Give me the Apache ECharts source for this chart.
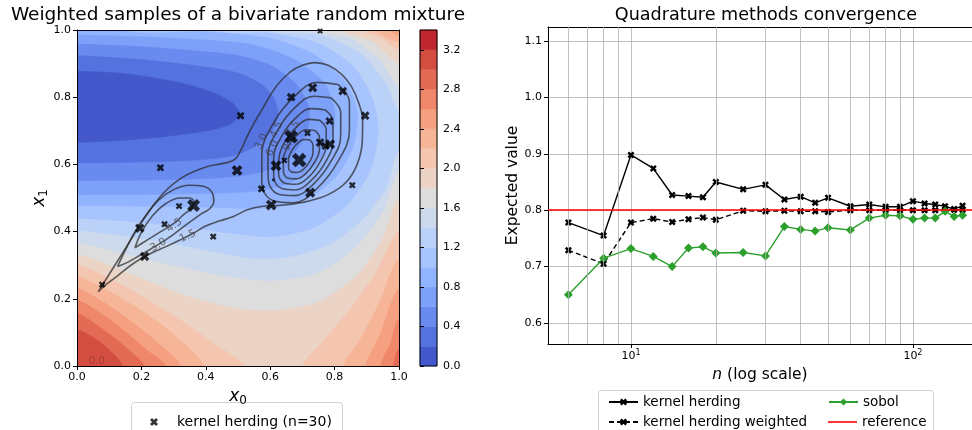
<!DOCTYPE html>
<html>
<head>
<meta charset="utf-8">
<title>kernel herding</title>
<script src="https://cdn.jsdelivr.net/npm/echarts@6.0.0/dist/echarts.min.js"></script>
<style>
html, body { margin: 0; padding: 0; background: #fff; }
#main { width: 972px; height: 430px; }
</style>
</head>
<body>
<div id="main"></div>
<script>
var FONT = 'DejaVu Sans';

// ---------- right panel : convergence ----------
var nValues = [6, 8, 10, 12, 14, 16, 18, 20, 25, 30, 35, 40, 45, 50, 60, 70, 80, 90, 100, 110, 120, 130, 140, 150];
var herding = [0.778, 0.755, 0.898, 0.874, 0.827, 0.825, 0.823, 0.850, 0.837, 0.845, 0.819, 0.824, 0.813, 0.822, 0.807, 0.810, 0.806, 0.806, 0.816, 0.812, 0.810, 0.807, 0.802, 0.808];
var herdingWeighted = [0.729, 0.705, 0.778, 0.785, 0.779, 0.784, 0.787, 0.783, 0.799, 0.798, 0.799, 0.798, 0.798, 0.797, 0.800, 0.800, 0.800, 0.800, 0.800, 0.800, 0.800, 0.801, 0.801, 0.801];
var sobol = [0.650, 0.715, 0.732, 0.718, 0.700, 0.733, 0.735, 0.724, 0.725, 0.719, 0.771, 0.766, 0.763, 0.769, 0.765, 0.786, 0.791, 0.790, 0.784, 0.786, 0.786, 0.798, 0.789, 0.791];
var referenceValue = 0.802;
var minorGrid = [6, 7, 8, 9, 20, 30, 40, 50, 60, 70, 80, 90];

// ---------- left panel : samples (x0, x1, weight) ----------
var samples = [
  [0.755, 0.997, 2.5], [0.665, 0.800, 6], [0.732, 0.828, 6.5], [0.825, 0.818, 6], [0.895, 0.745, 6],
  [0.508, 0.745, 5], [0.784, 0.729, 5], [0.716, 0.693, 3.5], [0.665, 0.682, 14], [0.755, 0.665, 6],
  [0.786, 0.660, 8], [0.772, 0.655, 5], [0.690, 0.613, 16], [0.644, 0.612, 3], [0.618, 0.596, 9],
  [0.610, 0.554, 0.8], [0.497, 0.582, 9], [0.259, 0.590, 4.5], [0.573, 0.527, 4.5], [0.724, 0.516, 8],
  [0.855, 0.538, 3.5], [0.603, 0.479, 9], [0.362, 0.478, 13], [0.317, 0.476, 3.5], [0.195, 0.410, 7],
  [0.272, 0.422, 3.5], [0.423, 0.385, 3.5], [0.210, 0.326, 7], [0.078, 0.242, 3.5]
];

// density contour lines of the mixture
var iso15 = [[0.066,0.221],[0.102,0.276],[0.154,0.355],[0.206,0.435],[0.268,0.514],[0.330,0.563],[0.403,0.593],[0.454,0.603],[0.49,0.615],[0.51,0.645],[0.537,0.700],[0.576,0.765],[0.617,0.830],[0.662,0.875],[0.70,0.895],[0.738,0.903],[0.78,0.895],[0.822,0.868],[0.852,0.832],[0.874,0.785],[0.887,0.732],[0.886,0.670],[0.870,0.600],[0.835,0.546],[0.78,0.510],[0.715,0.490],[0.641,0.479],[0.568,0.474],[0.527,0.464],[0.486,0.445],[0.444,0.432],[0.403,0.418],[0.361,0.395],[0.320,0.375],[0.278,0.356],[0.227,0.334],[0.175,0.305],[0.123,0.266],[0.082,0.236],[0.066,0.221]];
var isoLeft30 = [[0.126,0.296],[0.150,0.345],[0.180,0.400],[0.215,0.450],[0.255,0.495],[0.300,0.525],[0.350,0.538],[0.395,0.534],[0.420,0.515],[0.425,0.490],[0.412,0.468],[0.385,0.452],[0.35,0.428],[0.30,0.392],[0.253,0.362],[0.20,0.332],[0.16,0.31],[0.126,0.296]];
var isoLeft45 = [[0.180,0.352],[0.200,0.398],[0.235,0.448],[0.275,0.483],[0.320,0.500],[0.350,0.500],[0.363,0.488],[0.356,0.470],[0.33,0.450],[0.302,0.425],[0.26,0.400],[0.22,0.376],[0.180,0.352]];
var ring30 = [[0.810,0.838],[0.747,0.844],[0.674,0.801],[0.610,0.723],[0.574,0.628],[0.574,0.544],[0.610,0.492],[0.673,0.486],[0.746,0.529],[0.810,0.608],[0.846,0.702],[0.846,0.786],[0.810,0.838]];
var ring45 = [[0.789,0.798],[0.736,0.803],[0.676,0.768],[0.624,0.703],[0.593,0.625],[0.594,0.555],[0.624,0.512],[0.676,0.507],[0.736,0.543],[0.788,0.608],[0.819,0.685],[0.819,0.755],[0.789,0.798]];
var ring60 = [[0.771,0.762],[0.728,0.766],[0.678,0.737],[0.636,0.684],[0.611,0.620],[0.611,0.563],[0.636,0.528],[0.678,0.524],[0.728,0.553],[0.771,0.606],[0.795,0.670],[0.795,0.727],[0.771,0.762]];
var ring75 = [[0.754,0.731],[0.720,0.734],[0.681,0.711],[0.646,0.668],[0.627,0.617],[0.626,0.572],[0.646,0.544],[0.680,0.541],[0.720,0.563],[0.754,0.606],[0.774,0.657],[0.774,0.703],[0.754,0.731]];
var ring90 = [[0.738,0.701],[0.712,0.703],[0.682,0.686],[0.656,0.654],[0.641,0.615],[0.641,0.580],[0.656,0.559],[0.682,0.557],[0.712,0.574],[0.738,0.607],[0.753,0.645],[0.753,0.680],[0.738,0.701]];
var ring105 = [[0.723,0.673],[0.705,0.674],[0.685,0.663],[0.667,0.641],[0.657,0.615],[0.657,0.592],[0.668,0.577],[0.685,0.576],[0.705,0.587],[0.723,0.609],[0.733,0.635],[0.733,0.658],[0.723,0.673]];
var isoLabels = [
  [0.344, 0.386, '1.5', 25], [0.253, 0.360, '3.0', 30], [0.302, 0.418, '4.5', 35],
  [0.573, 0.668, '3.0', 65], [0.620, 0.703, '4.5', 65], [0.607, 0.648, '6.0', 65],
  [0.660, 0.663, '9.0', 60], [0.672, 0.706, '7.5', 60]
];

// filled levels of the integrand (colorbar 0 .. 3.4 by 0.2)
var cbBounds = [0, 0.2, 0.4, 0.6, 0.8, 1.0, 1.2, 1.4, 1.6, 1.8, 2.0, 2.2, 2.4, 2.6, 2.8, 3.0, 3.2, 3.4];
var bandColors = ['#4359cb','#5573df','#698aef','#7da0f9','#92b4fe','#a7c4fe','#bad1f8','#cdd9ed','#dddddd',
                  '#ebd4c6','#f4c6b0','#f7b598','#f5a081','#ef876a','#e36b55','#d34d40','#bf262e'];

// level regions (below = value under level, above = value over level)
var fullArea = [[-0.1,-0.1],[1.1,-0.1],[1.1,1.1],[-0.1,1.1]];
var below02 = [[-0.1,0.877],[0,0.877],[0.15,0.870],[0.31,0.845],[0.42,0.815],[0.48,0.785],[0.505,0.752],[0.48,0.722],[0.42,0.703],[0.30,0.686],[0.15,0.672],[0,0.666],[-0.1,0.666]];
var below04 = [[-0.1,0.924],[0,0.924],[0.2,0.912],[0.4,0.89],[0.5,0.872],[0.57,0.84],[0.61,0.80],[0.625,0.75],[0.605,0.70],[0.555,0.655],[0.48,0.625],[0.35,0.612],[0.2,0.607],[0,0.604],[-0.1,0.604]];
var below06 = [[-0.1,0.958],[0,0.958],[0.2,0.95],[0.4,0.935],[0.5,0.924],[0.6,0.895],[0.68,0.84],[0.72,0.77],[0.715,0.70],[0.67,0.63],[0.60,0.585],[0.5,0.565],[0.3,0.555],[0,0.552],[-0.1,0.552]];
var below08 = [[-0.1,0.985],[0,0.985],[0.2,0.98],[0.4,0.97],[0.55,0.955],[0.68,0.91],[0.77,0.84],[0.80,0.76],[0.79,0.68],[0.74,0.60],[0.66,0.545],[0.55,0.52],[0.3,0.512],[0,0.51],[-0.1,0.51]];
var below10 = [[-0.1,1.1],[0.15,1.1],[0.15,1],[0.4,0.995],[0.6,0.975],[0.73,0.93],[0.83,0.85],[0.87,0.76],[0.86,0.66],[0.81,0.57],[0.72,0.5],[0.6,0.47],[0.4,0.473],[0,0.478],[-0.1,0.478]];
var below12 = [[-0.1,1.1],[0.42,1.1],[0.42,1],[0.6,0.99],[0.75,0.96],[0.86,0.89],[0.92,0.79],[0.935,0.69],[0.91,0.58],[0.84,0.48],[0.73,0.41],[0.6,0.385],[0.4,0.405],[0.2,0.428],[0,0.44],[-0.1,0.44]];
var below14 = [[-0.1,1.1],[0.60,1.1],[0.60,1],[0.75,0.985],[0.88,0.93],[0.96,0.84],[1,0.76],[1.1,0.76],[1.1,0.64],[1,0.64],[0.96,0.53],[0.88,0.43],[0.78,0.36],[0.66,0.325],[0.55,0.32],[0.4,0.345],[0.2,0.38],[0,0.404],[-0.1,0.404]];
var below16 = [[-0.1,1.1],[0.74,1.1],[0.74,1],[0.85,0.975],[0.94,0.91],[1,0.83],[1.1,0.83],[1.1,0.58],[1,0.58],[0.95,0.46],[0.86,0.35],[0.75,0.28],[0.62,0.255],[0.48,0.265],[0.3,0.30],[0.15,0.335],[0,0.368],[-0.1,0.368]];
var above18top = [[0.83,1.1],[0.83,1],[0.92,0.965],[1,0.90],[1.1,0.90],[1.1,1.1]];
var above18low = [[1.1,0.50],[1,0.50],[0.95,0.38],[0.87,0.27],[0.75,0.19],[0.62,0.165],[0.5,0.17],[0.35,0.205],[0.2,0.26],[0,0.333],[-0.1,0.333],[-0.1,-0.1],[1.1,-0.1]];
var above20top = [[0.89,1.1],[0.89,1],[0.95,0.975],[1,0.94],[1.1,0.94],[1.1,1.1]];
var above20left = [[-0.1,0.302],[0,0.302],[0.15,0.235],[0.3,0.15],[0.42,0.07],[0.52,0],[0.52,-0.1],[-0.1,-0.1]];
var above20right = [[0.70,-0.1],[0.70,0],[0.76,0.07],[0.84,0.16],[0.93,0.28],[1,0.40],[1.1,0.40],[1.1,-0.1]];
var above22top = [[0.93,1.1],[0.93,1],[1,0.965],[1.1,0.965],[1.1,1.1]];
var above22left = [[-0.1,0.267],[0,0.267],[0.15,0.195],[0.28,0.11],[0.395,0],[0.395,-0.1],[-0.1,-0.1]];
var above22right = [[0.828,-0.1],[0.828,0],[0.88,0.08],[0.94,0.19],[1,0.32],[1.1,0.32],[1.1,-0.1]];
var above24top = [[0.97,1.1],[0.97,1],[1,0.985],[1.1,0.985],[1.1,1.1]];
var above24left = [[-0.1,0.232],[0,0.232],[0.13,0.16],[0.25,0.07],[0.323,0],[0.323,-0.1],[-0.1,-0.1]];
var above24right = [[0.896,-0.1],[0.896,0],[0.94,0.09],[1,0.23],[1.1,0.23],[1.1,-0.1]];
var above26left = [[-0.1,0.197],[0,0.197],[0.12,0.125],[0.22,0.045],[0.276,0],[0.276,-0.1],[-0.1,-0.1]];
var above26right = [[0.942,-0.1],[0.942,0],[0.975,0.07],[1,0.14],[1.1,0.14],[1.1,-0.1]];
var above28left = [[-0.1,0.157],[0,0.157],[0.1,0.095],[0.17,0.04],[0.209,0],[0.209,-0.1],[-0.1,-0.1]];
var above28right = [[0.983,-0.1],[0.983,0],[1,0.05],[1.1,0.05],[1.1,-0.1]];
var above30left = [[-0.1,0.108],[0,0.108],[0.08,0.065],[0.142,0],[0.142,-0.1],[-0.1,-0.1]];

var fillRegions = [
  [8, fullArea],
  [9, above18top], [9, above18low],
  [10, above20top], [10, above20left], [10, above20right],
  [11, above22top], [11, above22left], [11, above22right],
  [12, above24top], [12, above24left], [12, above24right],
  [13, above26left], [13, above26right],
  [14, above28left], [14, above28right],
  [15, above30left],
  [7, below16], [6, below14], [5, below12], [4, below10],
  [3, below08], [2, below06], [1, below04], [0, below02]
];

var XMARK = 'path://M0,2.5 L2.5,0 L5,2.5 L7.5,0 L10,2.5 L7.5,5 L10,7.5 L7.5,10 L5,7.5 L2.5,10 L0,7.5 L2.5,5 Z';
var ISO_COLOR = 'rgba(40,40,40,0.72)';

function pairs(xs, ys) {
  return xs.map(function (x, i) { return [x, ys[i]]; });
}

function isoLine(pts) {
  return {
    type: 'line', xAxisIndex: 0, yAxisIndex: 0, data: pts, smooth: 0.4,
    showSymbol: false, symbol: 'none', silent: true, z: 3,
    lineStyle: { color: ISO_COLOR, width: 1.6 }
  };
}

function frameAxis(extra) {
  var a = {
    type: 'value', min: 0, max: 1,
    axisLine: { show: true, onZero: false, lineStyle: { color: '#000', width: 1 } },
    axisTick: { show: false }, axisLabel: { show: false }, splitLine: { show: false }
  };
  for (var k in extra) a[k] = extra[k];
  return a;
}

function legendItem(name, left, top, extra) {
  var l = {
    data: [name], left: left, top: top, itemWidth: 29, itemHeight: 9,
    textStyle: { fontSize: 13.5, color: '#000', fontFamily: FONT, padding: [0, 0, 0, 0] }
  };
  for (var k in extra) l[k] = extra[k];
  return l;
}

var tickFont = { fontSize: 11, color: '#000', fontFamily: FONT };

var chart = echarts.init(document.getElementById('main'));

var option = {
  animation: false,
  textStyle: { fontFamily: FONT },
  graphic: [
    { type: 'text', x: 238, y: 15, z: 10, style: { text: 'Weighted samples of a bivariate random mixture', fontSize: 18.5, fontFamily: FONT, fill: '#000', align: 'center', verticalAlign: 'middle' } },
    { type: 'text', x: 766, y: 15, z: 10, style: { text: 'Quadrature methods convergence', fontSize: 17.6, fontFamily: FONT, fill: '#000', align: 'center', verticalAlign: 'middle' } },
    { type: 'rect', shape: { x: 131.5, y: 402.5, width: 211, height: 40, r: 3 }, style: { fill: '#fff', stroke: '#d0d0d0', lineWidth: 1 }, z: 0 },
    { type: 'rect', shape: { x: 598.5, y: 390.5, width: 335, height: 50, r: 3 }, style: { fill: '#fff', stroke: '#d0d0d0', lineWidth: 1 }, z: 0 }
  ],
  legend: [
    { data: ['kernel herding (n=30)'], left: 145, top: 410, itemWidth: 8, itemHeight: 8,
      textStyle: { fontSize: 14, color: '#000', fontFamily: FONT, padding: [0, 0, 0, 14] } },
    legendItem('kernel herding', 603, 390),
    legendItem('kernel herding weighted', 603, 410),
    legendItem('sobol', 823, 390),
    legendItem('reference', 823, 410, { icon: 'rect', itemHeight: 1.6 })
  ],
  grid: [
    { left: 77, top: 30, width: 322, height: 336 },
    { left: 420, top: 30, width: 17, height: 336 },
    { left: 548, top: 27, width: 424, height: 317 }
  ],
  xAxis: [
    // 0: left panel bottom
    { type: 'value', gridIndex: 0, min: 0, max: 1, interval: 0.2, z: 6,
      axisLine: { show: true, onZero: false, lineStyle: { color: '#000', width: 1 } },
      axisTick: { show: true, length: 4, lineStyle: { color: '#000' } },
      axisLabel: Object.assign({ margin: 6, formatter: function (v) { return v.toFixed(1); } }, tickFont),
      splitLine: { show: false },
      name: '{i|x}{s|0}', nameLocation: 'middle', nameGap: 17,
      nameTextStyle: { rich: { i: { fontSize: 17, fontStyle: 'italic', fontFamily: FONT, color: '#000' },
                               s: { fontSize: 12, fontFamily: FONT, color: '#000', padding: [9, 0, 0, 0] } } } },
    // 1: left panel top frame
    frameAxis({ gridIndex: 0, position: 'top', z: 6 }),
    // 2: colorbar
    { type: 'value', gridIndex: 1, min: 0, max: 1, show: false },
    // 3: right panel log axis
    { type: 'log', gridIndex: 2, logBase: 10, min: 5.08, max: 162,
      axisLine: { show: true, onZero: false, lineStyle: { color: '#000', width: 1 } },
      axisTick: { show: true, length: 4, lineStyle: { color: '#000' } },
      axisLabel: { margin: 5, showMinLabel: false, showMaxLabel: false,
        formatter: function (v) {
          if (Math.abs(v - 10) < 1e-6) return '{b|10}{s|1}';
          if (Math.abs(v - 100) < 1e-6) return '{b|10}{s|2}';
          return '';
        },
        rich: { b: { fontSize: 11, fontFamily: FONT, color: '#000' },
                s: { fontSize: 8, fontFamily: FONT, color: '#000', padding: [0, 0, 7, 0] } } },
      splitLine: { show: true, lineStyle: { color: '#b0b0b0', width: 0.8 } },
      name: '{i|n}{r| (log scale)}', nameLocation: 'middle', nameGap: 19,
      nameTextStyle: { rich: { i: { fontSize: 15.5, fontStyle: 'italic', fontFamily: FONT, color: '#000' },
                               r: { fontSize: 15.5, fontFamily: FONT, color: '#000' } } } },
    // 4: right panel top frame
    frameAxis({ gridIndex: 2, position: 'top' })
  ],
  yAxis: [
    // 0: left panel
    { type: 'value', gridIndex: 0, min: 0, max: 1, interval: 0.2, z: 6,
      axisLine: { show: true, onZero: false, lineStyle: { color: '#000', width: 1 } },
      axisTick: { show: true, length: 4, lineStyle: { color: '#000' } },
      axisLabel: Object.assign({ margin: 6, formatter: function (v) { return v.toFixed(1); } }, tickFont),
      splitLine: { show: false },
      name: '{i|x}{s|1}', nameLocation: 'middle', nameGap: 24, nameRotate: 90,
      nameTextStyle: { rich: { i: { fontSize: 17, fontStyle: 'italic', fontFamily: FONT, color: '#000' },
                               s: { fontSize: 12, fontFamily: FONT, color: '#000', padding: [9, 0, 0, 0] } } } },
    // 1: left panel right frame
    frameAxis({ gridIndex: 0, position: 'right', z: 6 }),
    // 2: colorbar scale
    { type: 'value', gridIndex: 1, position: 'right', min: 0, max: 3.4, interval: 0.4, z: 6,
      axisLine: { show: false },
      axisTick: { show: true, length: 4, lineStyle: { color: '#000' } },
      axisLabel: Object.assign({ margin: 6, showMaxLabel: false, formatter: function (v) { return v.toFixed(1); } }, tickFont),
      splitLine: { show: false } },
    // 3: right panel
    { type: 'value', gridIndex: 2, min: 0.5628, max: 1.1248, splitNumber: 5,
      axisLine: { show: true, onZero: false, lineStyle: { color: '#000', width: 1 } },
      axisTick: { show: true, length: 4, lineStyle: { color: '#000' } },
      axisLabel: Object.assign({ margin: 6, showMinLabel: false, showMaxLabel: false,
        formatter: function (v) { return v.toFixed(1); } }, tickFont),
      splitLine: { show: true, lineStyle: { color: '#b0b0b0', width: 0.8 } },
      name: 'Expected value', nameLocation: 'middle', nameGap: 24, nameRotate: 90,
      nameTextStyle: { fontSize: 15.5, fontFamily: FONT, color: '#000' } },
    // 4: right panel right frame
    frameAxis({ gridIndex: 2, position: 'right' })
  ],
  series: [
    // filled levels
    { type: 'custom', xAxisIndex: 0, yAxisIndex: 0, clip: true, silent: true, z: 1,
      data: fillRegions.map(function (r, i) { return [0.5, 0.5, i]; }),
      renderItem: function (params, api) {
        var r = fillRegions[params.dataIndex];
        var pts = r[1].map(function (p) { return api.coord(p); });
        var c = bandColors[r[0]];
        return { type: 'polygon', shape: { points: pts, smooth: 0.25 },
                 style: { fill: c, stroke: c, lineWidth: 0.6 } };
      } },
    isoLine(iso15), isoLine(isoLeft30), isoLine(isoLeft45),
    isoLine(ring30), isoLine(ring45), isoLine(ring60), isoLine(ring75), isoLine(ring90), isoLine(ring105),
    { type: 'scatter', xAxisIndex: 0, yAxisIndex: 0, silent: true, z: 4, symbolSize: 0,
      data: isoLabels.map(function (l) {
        return { value: [l[0], l[1]], label: { show: true, formatter: l[2], rotate: l[3], position: 'inside',
                 fontSize: 10.5, color: 'rgba(60,60,60,0.9)', fontFamily: FONT } };
      }) },
    { type: 'scatter', xAxisIndex: 0, yAxisIndex: 0, silent: true, z: 4, symbolSize: 0,
      data: [{ value: [0.062, 0.014], label: { show: true, formatter: '0.0', position: 'inside', fontSize: 10,
               color: 'rgba(120,40,40,0.55)', fontFamily: FONT } }] },
    { name: 'kernel herding (n=30)', type: 'scatter', xAxisIndex: 0, yAxisIndex: 0, z: 5, silent: true,
      symbol: XMARK, itemStyle: { color: '#000' },
      symbolSize: function (v) { return 3.6 * Math.sqrt(v[2]); },
      data: samples },

    // colorbar
    { type: 'custom', xAxisIndex: 2, yAxisIndex: 2, silent: true, z: 2,
      data: bandColors.map(function (c, i) { return [0.5, cbBounds[i]]; }).concat([[0.5, 0]]),
      renderItem: function (params, api) {
        var i = params.dataIndex;
        if (i < bandColors.length) {
          var a = api.coord([0, cbBounds[i + 1]]), b = api.coord([1, cbBounds[i]]);
          return { type: 'rect', shape: { x: a[0], y: a[1], width: b[0] - a[0], height: b[1] - a[1] },
                   style: { fill: bandColors[i], stroke: bandColors[i], lineWidth: 0.5 } };
        }
        var p = api.coord([0, 3.4]), q = api.coord([1, 0]);
        return { type: 'rect', z2: 10, shape: { x: p[0], y: p[1], width: q[0] - p[0], height: q[1] - p[1] },
                 style: { fill: 'none', stroke: '#000', lineWidth: 1 } };
      } },

    // right panel
    { type: 'line', xAxisIndex: 3, yAxisIndex: 3, data: [], silent: true, z: 1,
      markLine: { silent: true, symbol: 'none', label: { show: false }, animation: false,
        lineStyle: { color: '#b0b0b0', width: 0.8, type: 'solid', opacity: 1 },
        data: minorGrid.map(function (v) { return { xAxis: v }; }) } },
    { name: 'kernel herding', type: 'line', xAxisIndex: 3, yAxisIndex: 3, z: 3,
      data: pairs(nValues, herding), symbol: XMARK, symbolSize: 7, showSymbol: true,
      itemStyle: { color: '#000' }, lineStyle: { color: '#000', width: 1.4 } },
    { name: 'kernel herding weighted', type: 'line', xAxisIndex: 3, yAxisIndex: 3, z: 3,
      data: pairs(nValues, herdingWeighted), symbol: XMARK, symbolSize: 7, showSymbol: true,
      itemStyle: { color: '#000' }, lineStyle: { color: '#000', width: 1.4, type: [5, 3] } },
    { name: 'sobol', type: 'line', xAxisIndex: 3, yAxisIndex: 3, z: 3,
      data: pairs(nValues, sobol), symbol: 'diamond', symbolSize: 9, showSymbol: true,
      itemStyle: { color: '#2ca02c' }, lineStyle: { color: '#2ca02c', width: 1.4 } },
    { name: 'reference', type: 'line', xAxisIndex: 3, yAxisIndex: 3, z: 5, data: [],
      symbol: 'none', itemStyle: { color: '#ff0000' }, lineStyle: { color: '#ff0000', width: 1.5 },
      markLine: { silent: true, symbol: 'none', label: { show: false }, animation: false,
        lineStyle: { color: '#ff0000', width: 1.5, type: 'solid', opacity: 1 },
        emphasis: { disabled: true },
        data: [{ yAxis: referenceValue }] } }
  ]
};

chart.setOption(option);
</script>
</body>
</html>
